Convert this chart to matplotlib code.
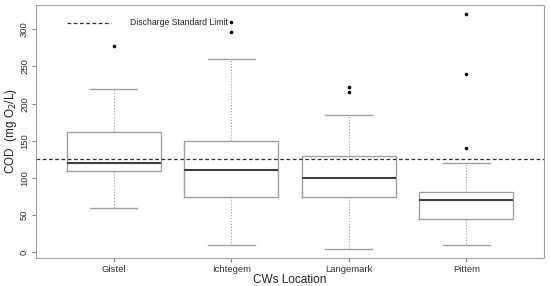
import numpy as np
import matplotlib.pyplot as plt

plt.rcParams['font.family'] = ['Liberation Sans', 'DejaVu Sans']

# COD por local
locais = ['Gistel', 'Ichtegem', 'Langemark', 'Pittem']
whis_lo = [60, 10, 5, 10]
q1 = [110, 75, 75, 45]
mediana = [119.5, 111, 100, 71]
q3 = [162, 150, 129, 81]
whis_hi = [220, 260, 185, 120]
outliers = [[278], [296, 310], [215, 223], [140, 240, 320]]
limite = 125

stats = []
for i in range(len(locais)):
    stats.append({'label': locais[i], 'whislo': whis_lo[i], 'q1': q1[i],
                  'med': mediana[i], 'q3': q3[i], 'whishi': whis_hi[i],
                  'fliers': outliers[i]})

fig = plt.figure(figsize=(5.5, 2.86), dpi=100)
ax = fig.add_axes([0.0655, 0.098, 0.9235, 0.8845])

cinza = '#a0a0a0'
ax.bxp(stats, positions=range(1, 5), widths=0.8,
       boxprops=dict(color=cinza, linewidth=1),
       medianprops=dict(color='#404040', linewidth=1.5),
       whiskerprops=dict(color=cinza, linewidth=0.8, linestyle=':'),
       capprops=dict(color=cinza, linewidth=1),
       flierprops=dict(marker='o', markersize=1.6, markerfacecolor='black',
                       markeredgecolor='black'),
       capwidths=0.4)

ax.axhline(limite, color='#333333', linestyle='--', linewidth=0.9, dashes=(3, 2))

# legenda
ax.plot([0.6, 0.98], [309, 309], color='#333333', linestyle='--', linewidth=0.9, dashes=(3, 2))
ax.text(1.14, 309, 'Discharge Standard Limit', fontsize=6.2, va='center', color='#222222')

ax.set_xlim(0.34, 4.66)
ax.set_ylim(-7.6, 332.6)
ax.set_yticks(range(0, 301, 50))
ax.set_xticks(range(1, 5))
ax.set_xticklabels(locais)
for lbl in ax.get_yticklabels():
    lbl.set_rotation(90)
    lbl.set_va('center')
ax.tick_params(labelsize=6.8, colors='#888888', labelcolor='#333333', length=3, width=0.8, pad=2)
for s in ax.spines.values():
    s.set_color(cinza)
ax.set_xlabel('CWs Location', fontsize=8.5, color='#222222', labelpad=0)
ax.set_ylabel('COD  (mg O$_2$/L)', fontsize=8.5, color='#222222', labelpad=1)

plt.savefig('out.png', dpi=100)
